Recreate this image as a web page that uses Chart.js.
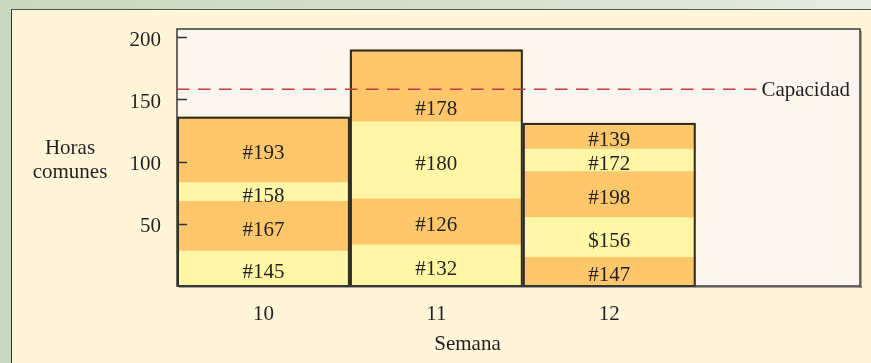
<!DOCTYPE html>
<html>
<head>
<meta charset="utf-8">
<script src="https://cdn.jsdelivr.net/npm/chart.js@4/dist/chart.umd.min.js"></script>
<style>
  html, body { margin: 0; padding: 0; width: 871px; height: 363px; overflow: hidden; }
  body { background: linear-gradient(to right, #c9d8c0 0%, #d6e1cf 60%, #e7ede3 100%); position: relative; }
  #panel {
    position: absolute; left: 11px; top: 9px; right: -6px; bottom: -6px;
    background: #fff6da;
    border-left: 1.5px solid #333;
    border-top: 1.5px solid #555;
  }
  #chart { position: absolute; left: 0; top: 0; }
</style>
</head>
<body>
<div id="panel"></div>
<canvas id="chart" width="871" height="363"></canvas>
<script>
// Weekly load per work centre: hours of each job, stacked per week
const weeks = [10, 11, 12];
const jobsWeek10 = ['#145', '#167', '#158', '#193'];
const hoursWeek10 = [28, 40, 15, 53];
const jobsWeek11 = ['#132', '#126', '#180', '#178'];
const hoursWeek11 = [33, 37, 62, 58];
const jobsWeek12 = ['#147', '$156', '#198', '#172', '#139'];
const hoursWeek12 = [23, 32, 37, 18, 21];
const capacityHours = 158;
const yTickValues = [50, 100, 150, 200];

const jobsByWeek = [jobsWeek10, jobsWeek11, jobsWeek12];
const hoursByWeek = [hoursWeek10, hoursWeek11, hoursWeek12];

// Shading: alternating bands, each week starts on its own shade
const YELLOW = '#fff6a6';
const ORANGE = '#fec76b';
const palette = [YELLOW, ORANGE];
const shadeStart = { 10: 0, 11: 0, 12: 1 };

const INK = '#231f20';
const SERIF = "'Liberation Serif', 'DejaVu Serif', serif";
const FONT_SIZE = 21;

const layerCount = Math.max(...hoursByWeek.map(h => h.length));
const datasets = [];
for (let layer = 0; layer < layerCount; layer++) {
  const points = [];
  weeks.forEach((w, wi) => {
    if (layer < hoursByWeek[wi].length) {
      points.push({ x: w, y: hoursByWeek[wi][layer], job: jobsByWeek[wi][layer], layer: layer });
    }
  });
  datasets.push({
    label: 'Capa ' + (layer + 1),
    data: points,
    backgroundColor: ctx => {
      const r = ctx.raw;
      return r ? palette[(r.layer + shadeStart[r.x]) % 2] : YELLOW;
    },
    borderWidth: 0,
    barPercentage: 1,
    categoryPercentage: 1
  });
}

const decorations = {
  id: 'decorations',
  beforeDraw(chart) {
    const { ctx, chartArea: a } = chart;
    ctx.save();
    ctx.fillStyle = '#fdf6ee';
    ctx.fillRect(a.left, a.top, a.right - a.left, a.bottom - a.top);
    ctx.restore();
  },
  afterDatasetsDraw(chart) {
    const { ctx, chartArea: a, scales } = chart;
    const yS = scales.y;
    ctx.save();

    // outline around each week's stack
    const stacks = {};
    chart.data.datasets.forEach((ds, di) => {
      const meta = chart.getDatasetMeta(di);
      meta.data.forEach((el, k) => {
        const p = el.getProps(['x', 'y', 'base', 'width'], true);
        const key = ds.data[k].x;
        const s = stacks[key] || (stacks[key] = { x: p.x, w: p.width, top: Infinity, bottom: -Infinity });
        s.top = Math.min(s.top, p.y, p.base);
        s.bottom = Math.max(s.bottom, p.y, p.base);
      });
    });
    ctx.strokeStyle = '#2a2a2a';
    ctx.lineWidth = 2;
    Object.values(stacks).forEach(s => {
      ctx.strokeRect(s.x - s.w / 2 + 1, s.top + 1, s.w - 2, s.bottom - s.top - 1);
    });

    // plot frame with faint shadow
    ctx.fillStyle = 'rgba(60,60,60,0.45)';
    ctx.fillRect(a.right + 0.5, a.top + 2, 1.5, a.bottom - a.top);
    ctx.fillRect(a.left + 2, a.bottom + 0.5, a.right - a.left, 1.5);
    ctx.strokeStyle = '#3a3a3a';
    ctx.lineWidth = 1.5;
    ctx.strokeRect(a.left, a.top, a.right - a.left, a.bottom - a.top);

    // inward tick marks on the hours axis
    ctx.lineWidth = 1.5;
    ctx.strokeStyle = '#333';
    yTickValues.forEach(v => {
      const py = Math.round(yS.getPixelForValue(v)) + 0.5;
      ctx.beginPath();
      ctx.moveTo(a.left, py);
      ctx.lineTo(a.left + 10, py);
      ctx.stroke();
    });

    // capacity line
    const capY = yS.getPixelForValue(capacityHours);
    ctx.font = FONT_SIZE + 'px ' + SERIF;
    const capText = 'Capacidad';
    const textX = a.right - 10 - ctx.measureText(capText).width;
    ctx.strokeStyle = '#c2384f';
    ctx.lineWidth = 1.5;
    ctx.setLineDash([12.5, 8.5]);
    ctx.beginPath();
    ctx.moveTo(a.left, capY);
    ctx.lineTo(textX - 5, capY);
    ctx.stroke();
    ctx.setLineDash([]);
    ctx.fillStyle = INK;
    ctx.textAlign = 'left';
    ctx.textBaseline = 'middle';
    ctx.fillText(capText, textX, capY + 1);

    // job labels in each band
    ctx.textAlign = 'center';
    chart.data.datasets.forEach((ds, di) => {
      const meta = chart.getDatasetMeta(di);
      meta.data.forEach((el, k) => {
        const p = el.getProps(['x', 'y', 'base'], true);
        let ly = (p.y + p.base) / 2;
        if (Math.abs(ly - capY) < 14) ly = capY + 16;
        ctx.fillText(ds.data[k].job, p.x, ly + 4);
      });
    });

    // hours axis caption, set horizontally left of the ticks
    const midY = yS.getPixelForValue(100);
    const capX = a.left - 107;
    ctx.fillText('Horas', capX, midY - 13);
    ctx.fillText('comunes', capX, midY + 11);

    // week axis caption
    ctx.fillText('Semana', (a.left + a.right) / 2 - 51, a.bottom + 58);
    ctx.restore();
  }
};

new Chart(document.getElementById('chart'), {
  type: 'bar',
  data: { datasets },
  options: {
    responsive: false,
    animation: false,
    devicePixelRatio: 1,
    layout: { padding: { left: 0, top: 29, right: 11, bottom: 0 } },
    plugins: { legend: { display: false }, tooltip: { enabled: false } },
    scales: {
      x: {
        type: 'linear',
        stacked: true,
        offset: false,
        min: 9.5,
        max: 13.45,
        afterBuildTicks: s => { s.ticks = weeks.map(v => ({ value: v })); },
        afterFit: s => { s.height = 77; },
        grid: { display: false, drawTicks: false },
        border: { display: false },
        ticks: { padding: 16, color: INK, font: { family: SERIF, size: FONT_SIZE }, callback: v => String(v) }
      },
      y: {
        stacked: true,
        min: 0,
        max: 206.5,
        afterBuildTicks: s => { s.ticks = yTickValues.map(v => ({ value: v })); },
        afterFit: s => { s.width = 177; },
        grid: { display: false, drawTicks: false },
        border: { display: false },
        ticks: { padding: 16, labelOffset: 3, color: INK, font: { family: SERIF, size: FONT_SIZE } }
      }
    }
  },
  plugins: [decorations]
});
</script>
</body>
</html>
